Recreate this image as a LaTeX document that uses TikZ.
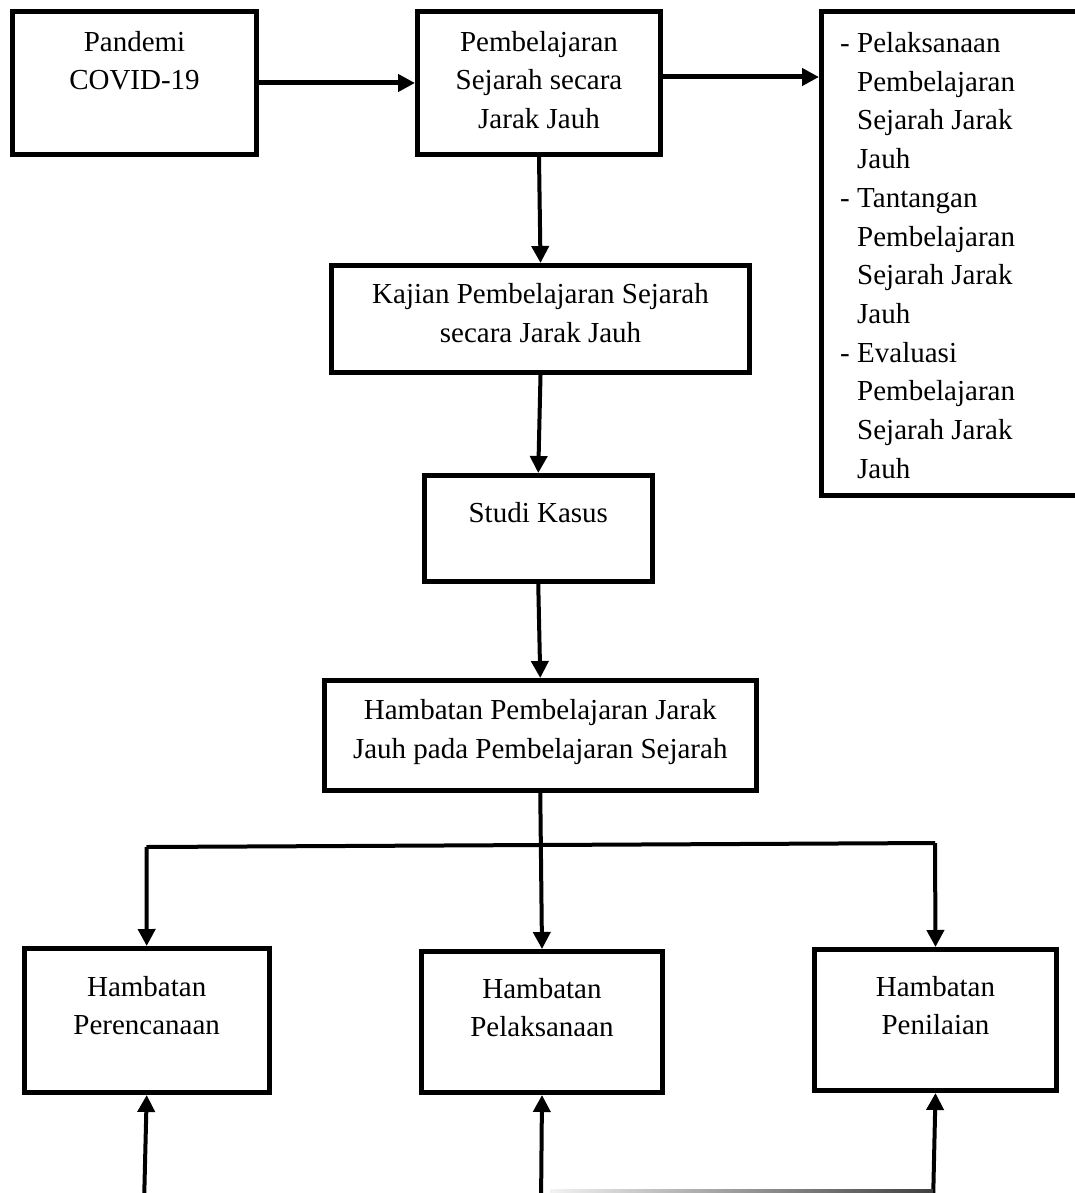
\documentclass[tikz,border=0pt]{standalone}
\usepackage{fontspec}
\setmainfont{Liberation Serif}
\usetikzlibrary{arrows.meta,calc}
\newcommand\dashitem{\makebox[17pt][l]{-}}
\newcommand\contline{\hspace*{17pt}}
\tikzset{
  box/.style={draw=black, line width=5pt, rectangle, inner sep=0pt, fill=white},
  txt/.style={align=center, inner sep=0pt, font=\fontsize{29}{38.5}\selectfont},
  arr/.style={line width=4pt, -{Triangle[length=17pt,width=17pt]}},
  thickarr/.style={line width=5pt, -{Triangle[length=17pt,width=17pt]}},
  link/.style={line width=4pt}
}
\begin{document}
\begin{tikzpicture}[x=1pt,y=-1pt]
\useasboundingbox (0,0) rectangle (1075,1193);
\clip (0,0) rectangle (1075,1193);
\fill[white] (0,0) rectangle (1075,1193);

% boxes
\node[box, minimum width=244pt, minimum height=143pt] (b1) at (134.5,83) {};
\node[box, minimum width=243pt, minimum height=143pt] (b2) at (539,83) {};
\node[box, minimum width=290pt, minimum height=484pt] (list) at (966.5,253.5) {};
\node[box, minimum width=418pt, minimum height=107pt] (kaj) at (540.5,319) {};
\node[box, minimum width=228.5pt, minimum height=106pt] (studi) at (538.25,528.5) {};
\node[box, minimum width=432.5pt, minimum height=109.5pt] (hamb) at (540.25,735.25) {};
\node[box, minimum width=245pt, minimum height=144pt] (hl) at (146.7,1020.5) {};
\node[box, minimum width=241pt, minimum height=141pt] (hm) at (542,1022) {};
\node[box, minimum width=242pt, minimum height=141pt] (hr) at (935.5,1020) {};

% texts
\node[txt] (t1) at (134.5,60.6) {Pandemi\\COVID-19};
\node[txt] (t2) at (539,80) {Pembelajaran\\Sejarah secara\\Jarak Jauh};
\node[txt, align=left, anchor=north west, font=\fontsize{29}{38.7}\selectfont] (tlist) at (840,32.2)
  {\dashitem Pelaksanaan\\\contline Pembelajaran\\\contline Sejarah Jarak\\\contline Jauh\\
   \dashitem Tantangan\\\contline Pembelajaran\\\contline Sejarah Jarak\\\contline Jauh\\
   \dashitem Evaluasi\\\contline Pembelajaran\\\contline Sejarah Jarak\\\contline Jauh};
\node[txt] (tkaj) at (540.5,313) {Kajian Pembelajaran Sejarah\\secara Jarak Jauh};
\node[txt] (tstudi) at (538.25,512.6) {Studi Kasus};
\node[txt] (thamb) at (540.25,732) {Hambatan Pembelajaran Jarak\\Jauh pada Pembelajaran Sejarah};
\node[txt] (thl) at (146.7,1005.5) {Hambatan\\Perencanaan};
\node[txt] (thm) at (542,1007.5) {Hambatan\\Pelaksanaan};
\node[txt] (thr) at (935.5,1005.5) {Hambatan\\Penilaian};

% connectors
\draw[thickarr] (b1) -- (b2);
\draw[thickarr] ([yshift=6pt]b2.east) -- ([yshift=6pt]b2.east -| list.west);
\draw[arr] (b2.south) -- (kaj.north);
\draw[arr] (kaj.south) -- (studi.north);
\draw[arr] (studi.south) -- (hamb.north);
\draw[arr] (hamb.south) -- (hm.north);

\coordinate (fl) at (146.5,847);
\coordinate (fr) at (935,843);
\draw[link] (fl) -- (fr);
\draw[arr] (fl) -- (hl.north);
\draw[arr] (fr) -- (hr.north);

\coordinate (ul) at (144,1205);
\coordinate (um) at (541,1205);
\coordinate (ur) at (933,1205);
\draw[arr] (ul) -- (hl.south);
\draw[arr] (um) -- (hm.south);
\draw[arr] (ur) -- (hr.south);
\shade[left color=black!5, right color=black!75] (550,1189) rectangle (933,1192.5);
\end{tikzpicture}
\end{document}
